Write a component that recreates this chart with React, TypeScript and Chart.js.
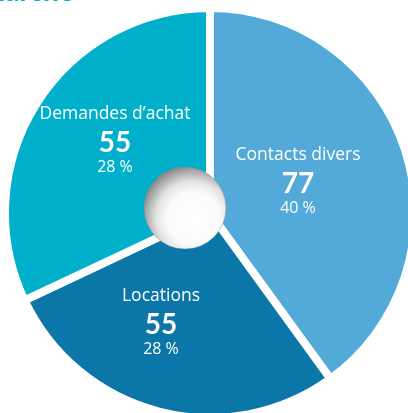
import React, { useEffect, useRef } from "react";
import { Chart, registerables } from "chart.js";

Chart.register(...registerables);

// Data
const categories = ["Contacts divers", "Locations", "Demandes d’achat"];
const counts = ["77", "55", "55"];
const percentLabels = ["40 %", "28 %", "28 %"];
// slice shares as drawn (angles measured on the picture)
const sliceShares = [40, 28, 32];
const colors = ["#53A9D7", "#0B76A8", "#00AFCA"];

// label layout (pixel offsets of the number from the pie centre)
const labelOffsets: [number, number][] = [
  [88, -30],
  [-49, 111],
  [-95, -71],
];

const FONT = "Lato, 'Open Sans', sans-serif";
const NAME_FONT = "'Open Sans', Lato, sans-serif";

const overlayPlugin = {
  id: "overlay",
  afterDraw(chart: any) {
    const meta = chart.getDatasetMeta(0);
    if (!meta || !meta.data.length) return;
    const arc = meta.data[0];
    const cx = arc.x;
    const cy = arc.y;
    const ctx = chart.ctx as CanvasRenderingContext2D;

    // decorative sphere
    const bx = cx - 25;
    const by = cy - 5;
    const r = 41;
    ctx.save();
    ctx.beginPath();
    ctx.arc(bx, by, r, 0, Math.PI * 2);
    ctx.closePath();
    const g = ctx.createRadialGradient(bx + 10, by + 12, 0, bx + 7, by + 9, r + 12);
    g.addColorStop(0, "#ffffff");
    g.addColorStop(0.5, "#fbfbfb");
    g.addColorStop(0.7, "#e2e2e2");
    g.addColorStop(0.87, "#ababab");
    g.addColorStop(1, "#7f7f7f");
    ctx.fillStyle = g;
    ctx.fill();
    ctx.lineWidth = 0.8;
    ctx.strokeStyle = "rgba(140,140,140,0.5)";
    ctx.stroke();
    ctx.restore();

    // labels
    ctx.save();
    ctx.fillStyle = "#ffffff";
    ctx.textAlign = "center";
    ctx.textBaseline = "middle";
    categories.forEach((name, i) => {
      const [ox, oy] = labelOffsets[i];
      const x = cx + ox;
      const y = cy + oy;
      ctx.font = `400 17.5px ${NAME_FONT}`;
      ctx.fillText(name, x, y - 28);
      ctx.font = `700 28px ${FONT}`;
      ctx.fillText(counts[i], x, y + 1);
      ctx.font = `400 16px ${NAME_FONT}`;
      ctx.fillText(percentLabels[i], x, y + 25);
    });
    ctx.restore();
  },
};

export default function App() {
  const ref = useRef<HTMLCanvasElement | null>(null);

  useEffect(() => {
    document.body.style.overflow = "hidden";
    const canvas = ref.current;
    if (!canvas) return;
    const chart = new Chart(canvas, {
      type: "pie",
      data: {
        labels: categories,
        datasets: [
          {
            data: sliceShares,
            backgroundColor: colors,
            borderColor: "#ffffff",
            borderWidth: 8,
            radius: 205,
            clip: false,
          } as any,
        ],
      },
      options: {
        animation: false,
        responsive: false,
        maintainAspectRatio: false,
        rotation: 0,
        layout: { padding: 0 },
        plugins: {
          legend: { display: false },
          tooltip: { enabled: false },
          title: { display: false },
        },
      },
      plugins: [overlayPlugin],
    });
    return () => chart.destroy();
  }, []);

  return (
    <div>
      <canvas
        ref={ref}
        width={420}
        height={426}
        style={{ position: "fixed", left: 0, top: 0, width: 420, height: 426 }}
      />
      <div
        style={{
          position: "fixed",
          right: 408 - 74,
          top: -24,
          fontFamily: FONT,
          fontWeight: 900,
          fontSize: 28,
          lineHeight: "28px",
          color: "#00AFCA",
          whiteSpace: "nowrap",
        }}
      >
        démarche
      </div>
    </div>
  );
}
